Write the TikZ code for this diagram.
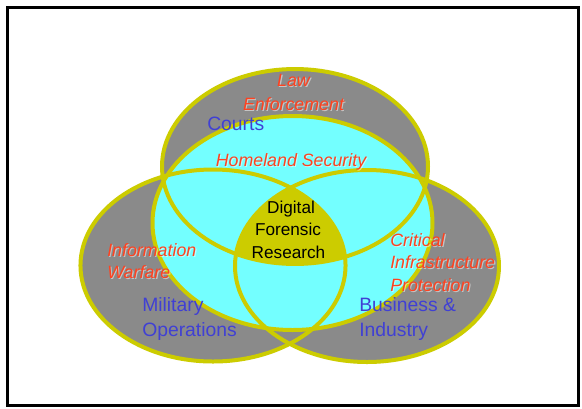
\documentclass[tikz,border=0pt]{standalone}
\usepackage{fontspec}
\setmainfont{Liberation Sans}
\definecolor{vgrey}{RGB}{138,138,138}
\definecolor{vcyan}{RGB}{115,255,255}
\definecolor{vyel}{RGB}{204,204,0}
\definecolor{vred}{RGB}{255,66,32}
\definecolor{vblue}{RGB}{64,64,212}
\begin{document}
\begin{tikzpicture}[x=0.75pt,y=-0.75pt,
  ring/.style={draw=vyel,line width=3pt},
  redtxt/.style={text=vred,font=\fontsize{13.35}{16}\selectfont\itshape,inner sep=0pt},
  redshd/.style={text=white,text opacity=0.5,font=\fontsize{13.35}{16}\selectfont\itshape,inner sep=0pt},
  bluetxt/.style={text=vblue,font=\fontsize{14.5}{17}\selectfont,inner sep=0pt},
  blacktxt/.style={text=black,font=\fontsize{12.9}{15}\selectfont,inner sep=0pt}]
\useasboundingbox (0,0) rectangle (582,408);
\fill[white] (0,0) rectangle (582,408);
\draw[line width=2.3pt] (7.5,7.5) rectangle (578.5,405.5);
% ellipse definitions
\def\topE{(295,166.5) ellipse [x radius=99.75pt, y radius=73.1pt]}
\def\leftE{(213,265.5) ellipse [x radius=99.4pt, y radius=72pt]}
\def\rightE{(367,266) ellipse [x radius=99pt, y radius=72pt]}
\def\cyanE{(292.5,223) ellipse [x radius=105pt, y radius=80.25pt]}
% grey fills
\fill[vgrey] \topE;
\fill[vgrey] \leftE;
\fill[vgrey] \rightE;
% cyan
\fill[vcyan] \cyanE;
% centre intersection
\begin{scope}
  \clip \topE;
  \clip \leftE;
  \fill[vyel] \rightE;
\end{scope}
% outlines
\draw[ring] \cyanE;
\draw[ring] \topE;
\draw[ring] \leftE;
\draw[ring] \rightE;
% red labels with shadows
\foreach \n/\x/\y/\a/\t in {law/293.5/86/base/Law, enf/293.5/110/base/Enforcement,
    hs/291/166/base/Homeland Security,
    inf/107/256.7/base west/Information, war/107/278/base west/Warfare,
    cri/390/246/base west/Critical, ifs/390/268.3/base west/Infrastructure,
    pro/390/291.7/base west/Protection}{
  \node[redshd,anchor=\a] (\n s) at (\x+1.1,\y+1.1) {\t};
  \node[redtxt,anchor=\a] (\n) at (\x,\y) {\t};
}
% blue labels
\node[bluetxt,anchor=base west] (courts) at (207,130) {Courts};
\node[bluetxt,anchor=base west] (mil) at (142,311.7) {Military};
\node[bluetxt,anchor=base west] (ops) at (142,336.7) {Operations};
\node[bluetxt,anchor=base west] (bus) at (359,311.7) {Business \&};
\node[bluetxt,anchor=base west] (ind) at (359,336) {Industry};
% black labels
\node[blacktxt,anchor=base] (dig) at (291,213.3) {Digital};
\node[blacktxt,anchor=base] (for) at (288,235) {Forensic};
\node[blacktxt,anchor=base] (res) at (288.5,258.3) {Research};
\end{tikzpicture}
\end{document}
